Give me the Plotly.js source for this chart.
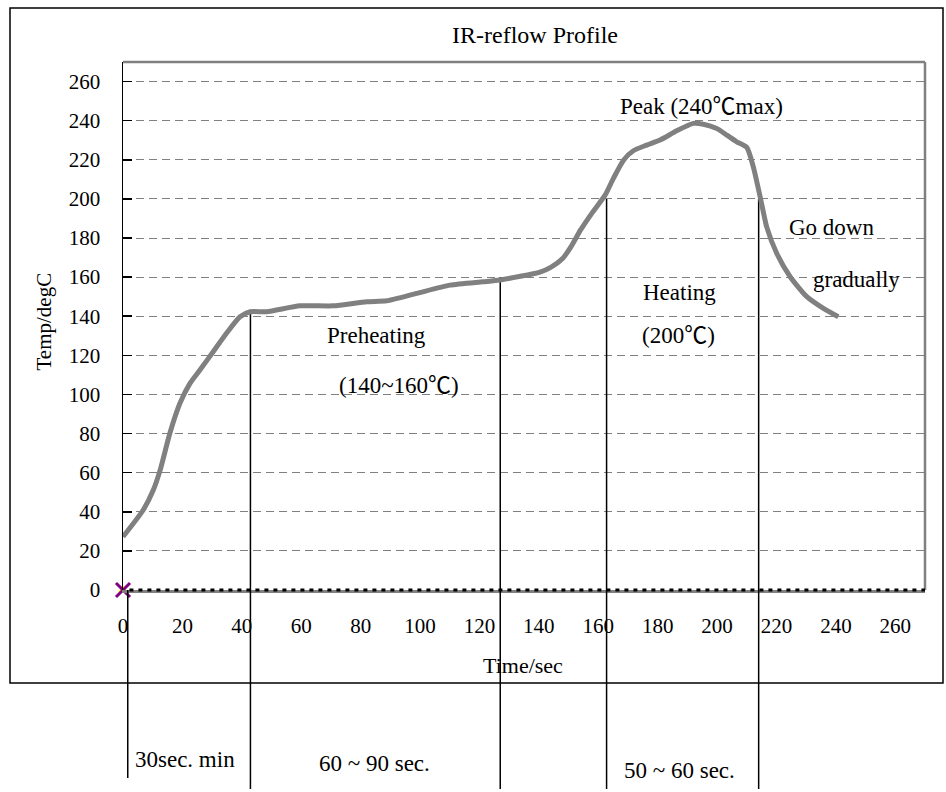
<!DOCTYPE html>
<html>
<head>
<meta charset="utf-8">
<script src="https://cdn.plot.ly/plotly-3.0.1.min.js"></script>
<style>html,body{margin:0;padding:0;background:#fff;}#chart{width:946px;height:792px;}</style>
</head>
<body>
<div id="chart"></div>
<script>
// ---- data ----
const timeSec = [0, 6.8, 10.2, 12.5, 15.8, 19.2, 22.6, 25.9, 30.3, 34.9, 39.4, 42.8, 48.4, 59.6, 70.7, 82.1, 88.8, 98.9, 110.1, 121.2, 126.9, 140.4, 144.0, 148.0, 151.0, 154.0, 158.0, 162.3, 165.1, 168.5, 171.8, 176.3, 180.8, 186.4, 192.0, 195.4, 199.9, 203.3, 206.6, 210.0, 212.2, 214.5, 216.7, 220.1, 224.6, 230.2, 235.8, 240.8];
const tempC = [27.2, 40.9, 51.1, 61.3, 80.3, 95.6, 105.8, 112.5, 121.7, 131.4, 139.7, 142.3, 142.3, 145.3, 145.3, 147.4, 147.9, 151.7, 155.9, 157.6, 158.5, 162.6, 165.0, 169.5, 176.0, 184.0, 193.0, 201.9, 210.5, 219.8, 224.6, 227.5, 230.1, 234.8, 238.6, 238.2, 236.0, 232.6, 229.2, 226.3, 216.4, 201.1, 185.7, 172.1, 160.2, 150.0, 144.0, 139.7];
const originX = [0];
const originY = [0];
const stageLineX = [1.6, 42.9, 127, 162.8, 214];
const stageLineTop = [0, 142, 160, 200, 200];
const xTicks = [0, 20, 40, 60, 80, 100, 120, 140, 160, 180, 200, 220, 240, 260];
const yTicks = [0, 20, 40, 60, 80, 100, 120, 140, 160, 180, 200, 220, 240, 260];
const plotNotes = [
  {text: 'Peak (240\u2103max)', x: 194.6, y: 247.4},
  {text: 'Preheating', x: 85.2, y: 130.2},
  {text: '(140~160\u2103)', x: 92.9, y: 104.8},
  {text: 'Heating', x: 187.2, y: 152.0},
  {text: '(200\u2103)', x: 186.9, y: 130.0},
  {text: 'Go down', x: 238.6, y: 185.6},
  {text: 'gradually', x: 247.0, y: 159.0}
];
const stageNotes = [
  {text: '30sec. min', x: 21.0, depth: 759},
  {text: '60 ~ 90 sec.', x: 84.5, depth: 763},
  {text: '50 ~ 60 sec.', x: 187.4, depth: 770}
];

// ---- figure ----
const FONT = "Liberation Serif, 'Noto Sans CJK TC', serif";
const H = 792, T = 62, B = 202, PH = H - T - B;
const pyToPaper = py => (H - B - py) / PH;

const traces = [];
const segX = [], segY = [];
stageLineX.forEach((lx, i) => { segX.push(lx, lx, null); segY.push(0, stageLineTop[i], null); });
traces.push({x: segX, y: segY, mode: 'lines', line: {color: '#000', width: 1.5}, hoverinfo: 'skip'});
traces.push({
  x: timeSec, y: tempC, mode: 'lines',
  line: {color: '#808080', width: 5, shape: 'spline', smoothing: 0.6}
});
traces.push({x: originX, y: originY, mode: 'markers', cliponaxis: false,
  marker: {symbol: 'triangle-up', size: 9, color: '#ffff00'}});
traces.push({x: originX, y: originY, mode: 'markers', cliponaxis: false,
  marker: {symbol: 'x-thin', size: 14, color: '#800080', line: {color: '#800080', width: 3}}});

const shapes = [
  {type: 'rect', xref: 'paper', yref: 'paper', x0: (10 - 123) / 802, x1: (943 - 123) / 802,
   y0: pyToPaper(683), y1: pyToPaper(8), line: {color: '#000', width: 1.5}},
  {type: 'line', xref: 'paper', yref: 'paper', x0: 0, x1: 1, y0: 1, y1: 1, line: {color: '#808080', width: 2.5}},
  {type: 'line', xref: 'paper', yref: 'paper', x0: 1, x1: 1, y0: 0, y1: 1, line: {color: '#808080', width: 2.5}},
  {type: 'line', xref: 'paper', yref: 'paper', x0: 0.008, x1: 1, y0: 0, y1: 0, line: {color: '#000', width: 3, dash: '4px,5px'}}
];
stageLineX.forEach((lx, i) => {
  shapes.push({type: 'line', xref: 'x', yref: 'paper', x0: lx, x1: lx, y0: 0,
    y1: pyToPaper(i === 0 ? 778 : 789), line: {color: '#000', width: 1.5}});
});

const annotations = [];
plotNotes.forEach(n => annotations.push({text: n.text, x: n.x, y: n.y, xref: 'x', yref: 'y',
  showarrow: false, xanchor: 'center', yanchor: 'middle', font: {family: FONT, size: 23, color: '#000'}}));
stageNotes.forEach(n => annotations.push({text: n.text, x: n.x, y: pyToPaper(n.depth), xref: 'x', yref: 'paper',
  showarrow: false, xanchor: 'center', yanchor: 'middle', font: {family: FONT, size: 23, color: '#000'}}));
annotations.push({text: 'Time/sec', x: (523 - 123) / 802, y: pyToPaper(665), xref: 'paper', yref: 'paper',
  showarrow: false, xanchor: 'center', yanchor: 'middle', font: {family: FONT, size: 22, color: '#000'}});
annotations.push({text: 'Temp/degC', x: (43 - 123) / 802, y: pyToPaper(321.5), xref: 'paper', yref: 'paper',
  showarrow: false, textangle: -90, xanchor: 'center', yanchor: 'middle', font: {family: FONT, size: 21, color: '#000'}});

const layout = {
  width: 946, height: 792,
  margin: {l: 123, r: 21, t: T, b: B},
  paper_bgcolor: '#fff', plot_bgcolor: '#fff',
  showlegend: false,
  font: {family: FONT, color: '#000'},
  title: {text: 'IR-reflow Profile', x: (535 - 123) / 802, xref: 'paper', xanchor: 'center',
    y: 1 - 35 / 792, yref: 'container', yanchor: 'middle', font: {family: FONT, size: 24, color: '#000'}},
  xaxis: {range: [0, 270], tickvals: xTicks, ticktext: xTicks.map(String), showgrid: false, zeroline: false,
    showline: true, linecolor: '#808080', linewidth: 3, ticks: '', ticklabelstandoff: 15,
    tickfont: {family: FONT, size: 21, color: '#000'}, fixedrange: true},
  yaxis: {range: [0, 270], tickvals: yTicks, ticktext: yTicks.map(String), showgrid: true, gridcolor: '#808080',
    gridwidth: 1, griddash: '8px,5px', zeroline: false, showline: true, linecolor: '#000', linewidth: 1.5,
    ticks: 'inside', ticklen: 9, tickwidth: 1.5, tickcolor: '#000', ticklabelstandoff: 17,
    tickfont: {family: FONT, size: 21, color: '#000'}, fixedrange: true},
  shapes: shapes,
  annotations: annotations
};

Plotly.newPlot('chart', traces, layout, {displayModeBar: false, staticPlot: true});
</script>
</body>
</html>
